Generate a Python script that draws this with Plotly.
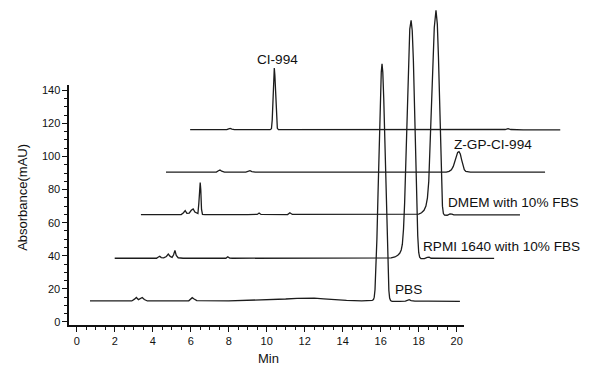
import plotly.graph_objects as go

# ---------------- data (axis units: min / mAU) ----------------
series_names = ["PBS", "RPMI 1640 with 10% FBS", "DMEM with 10% FBS", "Z-GP-CI-994", "CI-994"]

pbs_t = [0.70, 2.90, 3.04, 3.14, 3.25, 3.34, 3.45, 3.56, 3.72, 5.90, 6.00, 6.08, 6.18, 6.32,
         8.00, 9.00, 10.00, 11.00, 11.60, 12.00, 12.50, 13.00, 13.60, 14.20, 15.00,
         15.40, 15.55, 15.62, 15.66, 15.70, 15.75, 15.80, 15.86, 15.92, 15.98, 16.03, 16.07,
         16.11, 16.16, 16.22, 16.28, 16.34, 16.39, 16.43, 16.47, 16.52, 16.60, 16.75,
         17.00, 17.30, 17.40, 17.50, 17.60, 17.80, 18.50, 19.30, 20.17]
pbs_a = [12.7, 12.7, 13.8, 14.8, 13.5, 14.3, 14.8, 13.6, 12.7, 12.8, 14.0, 14.7, 13.9, 12.9,
         12.7, 13.0, 13.4, 13.9, 14.3, 14.5, 14.4, 14.0, 13.4, 13.0, 12.8,
         12.8, 13.0, 13.6, 15.0, 19.5, 31.0, 50.0, 78.0, 108.0, 135.0, 151.0, 156.0,
         151.0, 135.0, 108.0, 78.0, 50.0, 30.0, 19.0, 14.5, 13.0, 12.4, 12.3,
         12.5, 12.6, 13.3, 13.5, 12.9, 12.6, 12.6, 12.5, 12.5]

rpmi_t = [2.00, 4.20, 4.30, 4.37, 4.45, 4.58, 4.72, 4.82, 4.92, 5.02, 5.10, 5.17, 5.24, 5.34, 5.60,
          7.85, 7.95, 8.05, 8.20, 10.00, 12.00, 14.00,
          16.40, 16.55, 16.75, 16.90, 17.00, 17.08, 17.14, 17.20, 17.26, 17.32, 17.39, 17.46, 17.53, 17.60,
          17.66, 17.72, 17.78, 17.84, 17.90, 17.95, 18.00, 18.05, 18.12,
          18.30, 18.45, 18.55, 18.65, 19.00, 20.50, 21.97]
rpmi_a = [38.5, 38.5, 39.3, 39.7, 38.9, 38.7, 39.6, 41.0, 39.6, 39.0, 40.6, 43.3, 40.2, 38.8, 38.5,
          38.5, 39.4, 38.6, 38.5, 38.5, 38.4, 38.4,
          38.5, 38.7, 39.3, 40.3, 41.5, 43.5, 47.0, 56.0, 72.0, 97.0, 128.0, 157.0, 177.0, 182.3,
          176.0, 158.0, 130.0, 100.0, 70.0, 52.0, 42.0, 39.2, 38.3,
          38.3, 39.0, 39.1, 38.5, 38.4, 38.4, 38.4]

dmem_t = [3.38, 5.50, 5.62, 5.71, 5.80, 5.92, 6.03, 6.13, 6.22, 6.32,
          6.38, 6.43, 6.47, 6.50, 6.53, 6.57, 6.62, 6.75,
          9.00, 9.50, 9.60, 9.70, 11.10, 11.22, 11.35, 14.00, 17.00,
          17.85, 18.00, 18.15, 18.28, 18.38, 18.46, 18.53, 18.60, 18.67, 18.74, 18.82, 18.91,
          18.98, 19.04, 19.10, 19.16, 19.21, 19.25, 19.30, 19.36,
          19.50, 19.65, 19.75, 19.85, 21.00, 23.33]
dmem_a = [64.9, 64.9, 66.0, 67.3, 65.6, 65.8, 67.5, 68.3, 66.4, 65.5,
          65.5, 72.0, 82.0, 84.2, 80.0, 68.0, 65.0, 64.9,
          64.9, 65.0, 65.8, 65.0, 64.9, 66.0, 65.0, 65.0, 64.8,
          64.9, 65.2, 66.0, 67.5, 70.0, 75.0, 85.0, 105.0, 130.0, 155.0, 178.0, 188.4,
          180.0, 160.0, 130.0, 100.0, 80.0, 70.0, 65.5, 64.6,
          64.5, 65.3, 65.2, 64.7, 64.7, 64.7]

zgp_t = [4.70, 7.35, 7.46, 7.54, 7.63, 7.78, 8.90, 9.02, 9.12, 9.22, 9.40, 12.00, 15.00, 17.00,
         19.45, 19.60, 19.72, 19.82, 19.90, 19.98, 20.05, 20.12,
         20.19, 20.26, 20.33, 20.40, 20.48, 20.58, 20.72, 21.50, 23.00, 24.65]
zgp_a = [90.6, 90.6, 91.4, 91.8, 91.1, 90.6, 90.6, 91.2, 91.4, 90.9, 90.6, 90.5, 90.5, 90.6,
         90.6, 91.0, 92.0, 94.0, 97.0, 100.5, 102.5, 102.9,
         101.5, 98.0, 94.5, 92.0, 91.0, 90.6, 90.5, 90.5, 90.6, 90.6]

ci_t = [5.97, 7.90, 8.00, 8.08, 8.17, 8.30, 10.18, 10.25, 10.29, 10.33, 10.37, 10.40,
        10.43, 10.47, 10.51, 10.56, 10.62, 13.00, 16.00, 19.00,
        21.80, 21.95, 22.10, 22.55, 22.70, 22.85, 23.50, 25.45]
ci_a = [116.2, 116.2, 116.7, 117.0, 116.6, 116.2, 116.2, 116.8, 122.0, 136.0, 149.0, 153.5,
        149.0, 136.0, 122.0, 117.0, 116.2, 116.2, 116.2, 116.2,
        116.2, 116.5, 116.3, 116.3, 116.8, 116.3, 116.1, 116.1]

x_ticks = [0, 2, 4, 6, 8, 10, 12, 14, 16, 18, 20]
y_ticks = [0, 20, 40, 60, 80, 100, 120, 140]
x_title = "Min"
y_title = "Absorbance(mAU)"

# ---------------- layout geometry (pixels) ----------------
W, H = 600, 369
X0PX, XS = 76.7, 19.0      # px of 0 min, px per min
Y0PX, YS = 324.5, 1.673    # px of 0 mAU, px per mAU

def xv(px):
    return (px - X0PX) / XS

def yv(py):
    return (Y0PX - py) / YS

xr = [xv(0), xv(W)]
yr = [yv(H), yv(0)]
vis_x = [xv(69.3), xv(464.3)]
vis_y = [yv(327.8), yv(85.0)]
dom_x = [(vis_x[0] - xr[0]) / (xr[1] - xr[0]), (vis_x[1] - xr[0]) / (xr[1] - xr[0])]
dom_y = [(vis_y[0] - yr[0]) / (yr[1] - yr[0]), (vis_y[1] - yr[0]) / (yr[1] - yr[0])]

FONT = "Arial, Liberation Sans, Helvetica, sans-serif"
LINE = "#1c1c1c"

fig = go.Figure()
all_t = [pbs_t, rpmi_t, dmem_t, zgp_t, ci_t]
all_a = [pbs_a, rpmi_a, dmem_a, zgp_a, ci_a]

# dummy trace to materialise the visible axes (added first, drawn underneath)
fig.add_trace(go.Scatter(x=[None], y=[None], xaxis="x2", yaxis="y2", showlegend=False,
                         hoverinfo="skip"))

for name, t, a in zip(series_names, all_t, all_a):
    fig.add_trace(go.Scatter(x=t, y=a, mode="lines", name=name, showlegend=False,
                             line=dict(color=LINE, width=1.3), hoverinfo="skip",
                             xaxis="x", yaxis="y"))

axis_common = dict(showgrid=False, zeroline=False, showline=True, linecolor="#111",
                   linewidth=1.7, ticks="outside", ticklen=5, tickwidth=1.3, tickcolor="#111",
                   tickfont=dict(family=FONT, size=11, color="#111"))

fig.update_layout(
    width=W, height=H, margin=dict(l=0, r=0, t=0, b=0),
    paper_bgcolor="white", plot_bgcolor="rgba(0,0,0,0)",
    xaxis=dict(domain=[0, 1], range=xr, visible=False, fixedrange=True),
    yaxis=dict(domain=[0, 1], range=yr, visible=False, fixedrange=True),
    xaxis2=dict(domain=dom_x, range=vis_x, anchor="y2", tickmode="array", tickvals=x_ticks,
                minor=dict(dtick=0.5, tick0=0, ticks="outside", ticklen=3, tickwidth=1.1, tickcolor="#111"),
                **axis_common),
    yaxis2=dict(domain=dom_y, range=vis_y, anchor="x2", tickmode="array", tickvals=y_ticks,
                minor=dict(dtick=5, tick0=0, ticks="outside", ticklen=3, tickwidth=1.1, tickcolor="#111"),
                **axis_common),
)

# axis titles
fig.add_annotation(text=x_title, xref="paper", yref="paper", x=268 / W, y=1 - 361 / H,
                   showarrow=False, xanchor="center", yanchor="middle",
                   font=dict(family=FONT, size=13, color="#111"))
fig.add_annotation(text=y_title, xref="paper", yref="paper", x=23 / W, y=1 - 199 / H,
                   showarrow=False, xanchor="center", yanchor="middle", textangle=-90,
                   font=dict(family=FONT, size=13, color="#111"))

# series labels
label_pos = {
    "CI-994": (277.5, 59.3, "center"),
    "Z-GP-CI-994": (452.0, 145.0, "left"),
    "DMEM with 10% FBS": (446.0, 204.0, "left"),
    "RPMI 1640 with 10% FBS": (421.0, 248.3, "left"),
    "PBS": (393.0, 291.7, "left"),
}
for name in series_names:
    px, py, anc = label_pos[name]
    fig.add_annotation(text=name, xref="paper", yref="paper", x=px / W, y=1 - py / H,
                       showarrow=False, xanchor=anc, yanchor="middle",
                       font=dict(family=FONT, size=13.6, color="#111"))

fig.write_html("out.html", config={"displayModeBar": False},
               post_script="document.body.style.margin='0px';document.body.style.overflow='hidden';")
